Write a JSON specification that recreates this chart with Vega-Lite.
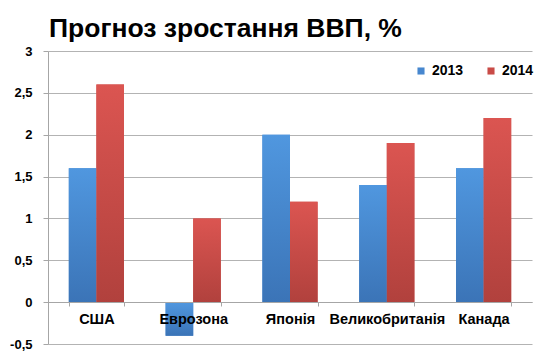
{
  "$schema": "https://vega.github.io/schema/vega-lite/v6.json",
  "width": 484,
  "height": 293,
  "autosize": {"type": "none"},
  "padding": {"left": 48, "top": 51, "right": 18, "bottom": 18},
  "background": "white",
  "title": {
    "text": "Прогноз зростання ВВП, %",
    "anchor": "start",
    "frame": "group",
    "font": "Liberation Sans",
    "fontSize": 26.5,
    "fontWeight": "bold",
    "color": "black",
    "dx": 1,
    "offset": 3
  },
  "data": {
    "values": [
      {"country": "США", "year": "2013", "value": 1.6},
      {"country": "США", "year": "2014", "value": 2.6},
      {"country": "Еврозона", "year": "2013", "value": -0.4},
      {"country": "Еврозона", "year": "2014", "value": 1.0},
      {"country": "Японія", "year": "2013", "value": 2.0},
      {"country": "Японія", "year": "2014", "value": 1.2},
      {"country": "Великобританія", "year": "2013", "value": 1.4},
      {"country": "Великобританія", "year": "2014", "value": 1.9},
      {"country": "Канада", "year": "2013", "value": 1.6},
      {"country": "Канада", "year": "2014", "value": 2.2}
    ]
  },
  "encoding": {
    "x": {
      "field": "country",
      "type": "nominal",
      "sort": ["США", "Еврозона", "Японія", "Великобританія", "Канада"],
      "scale": {"paddingInner": 0.43, "paddingOuter": 0.215},
      "axis": {
        "title": null,
        "orient": "bottom",
        "offset": -42,
        "labelAngle": 0,
        "labelFont": "Liberation Sans",
        "labelFontSize": 14.5,
        "labelFontWeight": "bold",
        "labelColor": "black",
        "labelPadding": 6,
        "tickBand": "extent",
        "tickSize": 4,
        "tickColor": "#a6a6a6",
        "domainColor": "#a6a6a6",
        "grid": false,
        "zindex": 1
      }
    },
    "xOffset": {"field": "year", "type": "nominal", "sort": ["2013", "2014"], "scale": {"paddingInner": 0, "paddingOuter": 0}},
    "y": {
      "field": "value",
      "type": "quantitative",
      "scale": {"domain": [-0.5, 3], "nice": false, "zero": false},
      "axis": {
        "title": null,
        "values": [-0.5, 0, 0.5, 1, 1.5, 2, 2.5, 3],
        "labelExpr": "replace(toString(datum.value), '.', ',')",
        "labelFont": "Liberation Sans",
        "labelFontSize": 13,
        "labelFontWeight": "bold",
        "labelColor": "black",
        "labelPadding": 11,
        "tickSize": 5,
        "tickColor": "#a6a6a6",
        "domainColor": "#a6a6a6",
        "gridColor": "#b3b3b3",
        "grid": true
      }
    }
  },
  "layer": [
    {
      "mark": {"type": "bar"},
      "encoding": {
        "color": {
          "field": "year",
          "type": "nominal",
          "scale": {"domain": ["2013", "2014"], "range": ["#4787cf", "#c94b47"]},
          "legend": {
            "title": null,
            "orient": "none",
            "legendX": 366,
            "legendY": 13,
            "direction": "horizontal",
            "symbolType": "square",
            "symbolSize": 50,
            "symbolStrokeWidth": 0,
            "labelFont": "Liberation Sans",
            "labelFontSize": 14,
            "labelFontWeight": "bold",
            "labelColor": "black",
            "columnPadding": 20,
            "labelOffset": 4
          }
        }
      }
    },
    {
      "transform": [{"filter": "datum.year === '2013'"}],
      "mark": {
        "type": "bar",
        "fill": {
          "gradient": "linear",
          "x1": 0, "y1": 0, "x2": 0, "y2": 1,
          "stops": [{"offset": 0, "color": "#5097df"}, {"offset": 1, "color": "#3b74b7"}]
        }
      },
      "encoding": {}
    },
    {
      "transform": [{"filter": "datum.year === '2014'"}],
      "mark": {
        "type": "bar",
        "fill": {
          "gradient": "linear",
          "x1": 0, "y1": 0, "x2": 0, "y2": 1,
          "stops": [{"offset": 0, "color": "#db5551"}, {"offset": 1, "color": "#b1413d"}]
        }
      },
      "encoding": {}
    }
  ],
  "config": {"view": {"stroke": null}}
}
